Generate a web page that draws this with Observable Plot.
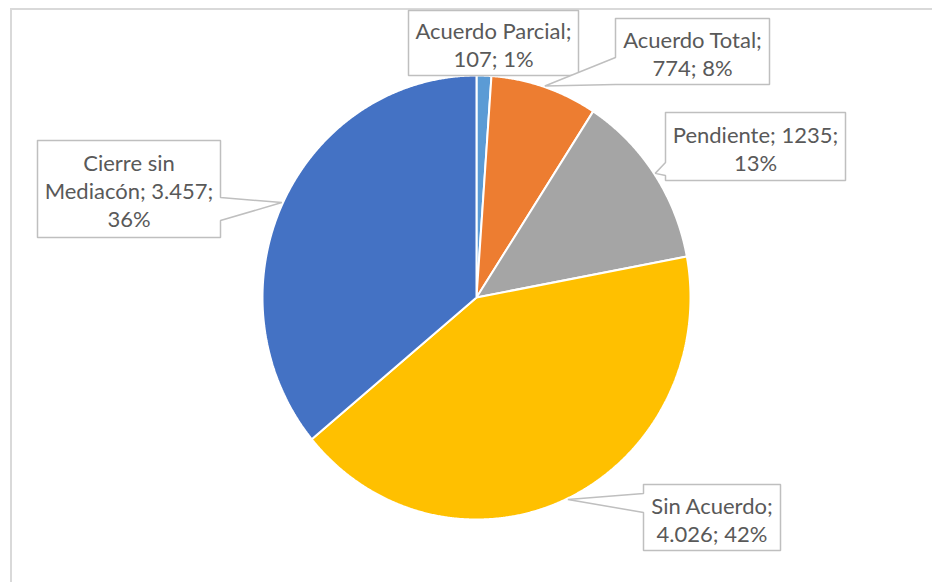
<!DOCTYPE html>
<html><head><meta charset="utf-8">
<script src="https://cdn.jsdelivr.net/npm/d3@7"></script>
<script src="https://cdn.jsdelivr.net/npm/@observablehq/plot@0.6"></script>
<style>
body{margin:0;background:#fff;}
#wrap{position:relative;width:932px;height:582px;overflow:hidden;background:#fff;}
#border{position:absolute;left:10px;top:8px;width:2000px;height:2000px;border-top:2px solid #d9d9d9;border-left:2px solid #d9d9d9;box-sizing:border-box;}
#chart{position:absolute;left:0;top:0;}
</style></head><body>
<div id="wrap"><div id="border"></div><div id="chart"></div></div>
<script>
// ---- data ----
const categories = ["Acuerdo Parcial", "Acuerdo Total", "Pendiente", "Sin Acuerdo", "Cierre sin Mediacón"];
const values = [107, 774, 1235, 4026, 3457];
const valueLabels = ["107", "774", "1235", "4.026", "3.457"];
const colors = ["#5B9BD5", "#ED7D31", "#A5A5A5", "#FFC000", "#4472C4"];
const labelTexts = [
  "Acuerdo Parcial;\n107; 1%",
  "Acuerdo Total;\n774; 8%",
  "Pendiente; 1235;\n13%",
  "Sin Acuerdo;\n4.026; 42%",
  "Cierre sin\nMediacón; 3.457;\n36%"
];

// ---- layout (pixels) ----
const pieX = [262, 690], pieY = [519, 75];
// callout boxes: [x1, x2, y1, y2], wedge base on side: [side, a, b]
const boxes = [
  {b: [408, 578, 10, 75], w: null},
  {b: [615, 769, 18, 84], w: ["left", 57, 84]},
  {b: [665, 845, 112, 180], w: ["left", 162, 175]},
  {b: [643, 780, 484, 550], w: ["left", 493, 512]},
  {b: [37, 220, 140, 237], w: ["right", 197, 220]}
];

const toX = d3.scaleLinear().domain(pieX).range([-1, 1]);
const toY = d3.scaleLinear().domain(pieY).range([-1, 1]);

// ---- pie geometry in unit coordinates ----
const arcs = d3.pie().sort(null).startAngle(0).endAngle(2 * Math.PI)(values);
const sliceRows = [];
arcs.forEach((a, i) => {
  const cat = categories[i];
  sliceRows.push({cat, x: 0, y: 0});
  const n = Math.max(2, Math.ceil((a.endAngle - a.startAngle) / 0.005));
  for (let k = 0; k <= n; k++) {
    const t = a.startAngle + (a.endAngle - a.startAngle) * k / n;
    sliceRows.push({cat, x: Math.sin(t), y: Math.cos(t)});
  }
  sliceRows.push({cat, x: 0, y: 0});
});

// ---- callouts ----
const calloutRows = [];
const textRows = [];
boxes.forEach((bx, i) => {
  const [x1, x2, y1, y2] = bx.b;
  const a = arcs[i];
  const mid = (a.startAngle + a.endAngle) / 2;
  const tip = {x: Math.sin(mid) * 1.005, y: Math.cos(mid) * 1.005};
  const pts = [];
  // clockwise in screen: TL, TR, (right side), BR, BL, (left side)
  pts.push([x1, y1], [x2, y1]);
  if (bx.w && bx.w[0] === "right") pts.push([x2, bx.w[1]], "tip", [x2, bx.w[2]]);
  pts.push([x2, y2], [x1, y2]);
  if (bx.w && bx.w[0] === "left") pts.push([x1, bx.w[2]], "tip", [x1, bx.w[1]]);
  pts.push([x1, y1]);
  pts.forEach(p => {
    if (p === "tip") calloutRows.push({id: i, x: tip.x, y: tip.y});
    else calloutRows.push({id: i, x: toX(p[0]), y: toY(p[1])});
  });
  textRows.push({text: labelTexts[i], x: toX((x1 + x2) / 2), y: toY((y1 + y2) / 2 + 1.5)});
});

const chart = Plot.plot({
  width: 932,
  height: 582,
  margin: 0,
  style: {background: "transparent"},
  x: {domain: [-1, 1], range: pieX, axis: null},
  y: {domain: [-1, 1], range: pieY, axis: null},
  color: {domain: categories, range: colors},
  marks: [
    Plot.line(sliceRows, {x: "x", y: "y", z: "cat", fill: "cat", stroke: "white", strokeWidth: 2, strokeLinejoin: "miter", curve: "linear"}),
    Plot.line(calloutRows, {x: "x", y: "y", z: "id", fill: "white", stroke: "#bfbfbf", strokeWidth: 1.5, strokeLinejoin: "miter", curve: "linear"}),
    Plot.text(textRows, {x: "x", y: "y", text: "text", fill: "#595959", fontSize: 22, fontFamily: "Lato", lineHeight: 28 / 22, lineAnchor: "middle", textAnchor: "middle"})
  ]
});
document.getElementById("chart").appendChild(chart);
</script>
</body></html>
